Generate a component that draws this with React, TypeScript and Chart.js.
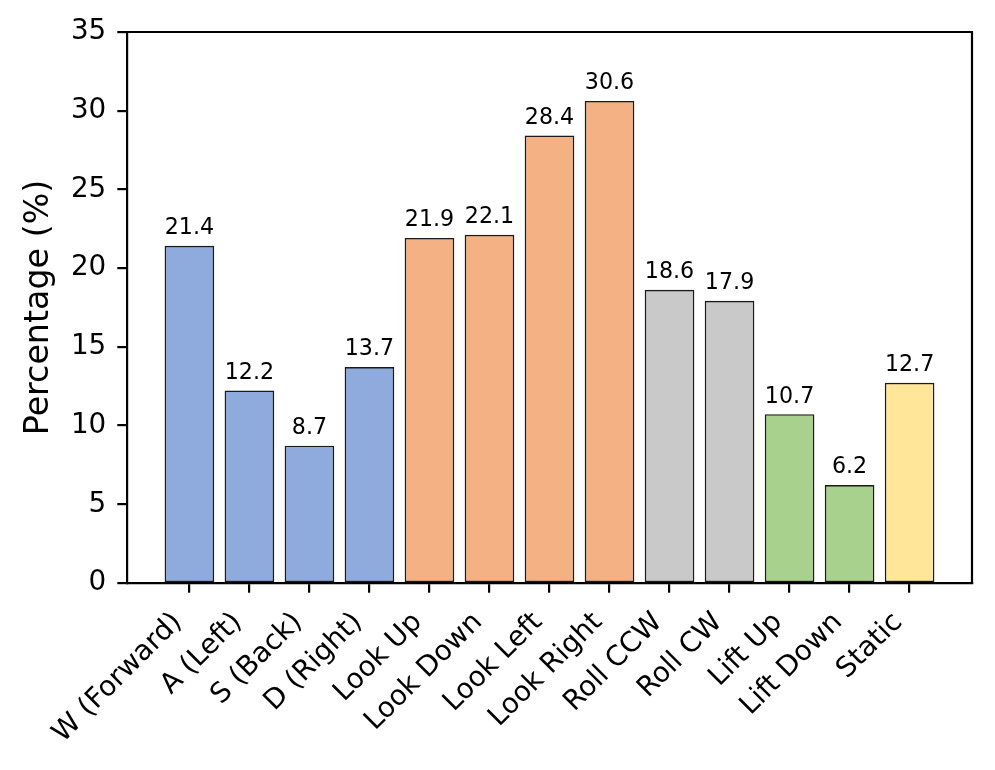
import React, { useEffect, useRef } from "react";
import { Chart, registerables } from "chart.js";

Chart.register(...registerables);

const categories = [
  "W (Forward)", "A (Left)", "S (Back)", "D (Right)",
  "Look Up", "Look Down", "Look Left", "Look Right",
  "Roll CCW", "Roll CW", "Lift Up", "Lift Down", "Static",
];
const percentages = [21.4, 12.2, 8.7, 13.7, 21.9, 22.1, 28.4, 30.6, 18.6, 17.9, 10.7, 6.2, 12.7];
const groupOf = [0, 0, 0, 0, 1, 1, 1, 1, 2, 2, 3, 3, 4];
const groupColors = ["#8FAADC", "#F4B183", "#C9C9C9", "#A9D18E", "#FFE699"];
const yTicks = [0, 5, 10, 15, 20, 25, 30, 35];

const FONT = "'DejaVu Sans', sans-serif";
const TICK_FONT = 27.8;
const TICK_LEN = 9.7;
const SPINE = 2.2;

export default function App() {
  const ref = useRef<HTMLCanvasElement | null>(null);

  useEffect(() => {
    document.body.style.margin = "0";
    const canvas = ref.current!;
    const framePlugin = {
      id: "frame",
      afterDraw(chart: any) {
        const { ctx, chartArea } = chart;
        ctx.save();
        ctx.strokeStyle = "#000";
        ctx.lineWidth = SPINE;
        ctx.lineCap = "square";
        ctx.beginPath();
        ctx.moveTo(chartArea.left, chartArea.top);
        ctx.lineTo(chartArea.right, chartArea.top);
        ctx.lineTo(chartArea.right, chartArea.bottom);
        ctx.stroke();
        ctx.restore();
      },
      afterDatasetsDraw(chart: any) {
        const { ctx } = chart;
        const meta = chart.getDatasetMeta(0);
        ctx.save();
        ctx.fillStyle = "#000";
        ctx.font = `22.2px ${FONT}`;
        ctx.textAlign = "center";
        ctx.textBaseline = "alphabetic";
        meta.data.forEach((el: any, i: number) => {
          ctx.fillText(percentages[i].toFixed(1), el.x, el.y - 12);
        });
        ctx.restore();
      },
    };

    const chart = new Chart(canvas, {
      type: "bar",
      data: {
        datasets: [
          {
            data: percentages.map((v, i) => ({ x: i, y: v })),
            backgroundColor: groupOf.map((g) => groupColors[g]),
            borderColor: "#1a1a1a",
            borderWidth: 1.4,
            borderSkipped: false,
            barThickness: 49,
          } as any,
        ],
      },
      options: {
        animation: false,
        responsive: false,
        maintainAspectRatio: false,
        layout: { padding: { top: 32, right: 23, left: 0, bottom: 0 } },
        plugins: { legend: { display: false }, tooltip: { enabled: false } },
        scales: {
          x: {
            type: "linear",
            min: -1.04,
            max: 13.04,
            offset: false,
            afterBuildTicks(scale: any) {
              scale.ticks = categories.map((_, i) => ({ value: i }));
            },
            afterFit(scale: any) {
              scale.height = 187;
              scale.paddingLeft = 0;
              scale.paddingRight = 0;
            },
            ticks: {
              autoSkip: false,
              minRotation: 45,
              maxRotation: 45,
              color: "#000",
              padding: 13.5,
              labelOffset: -11.5,
              font: { family: FONT, size: TICK_FONT },
              callback: (v: any) => categories[v as number] ?? "",
            },
            grid: {
              display: true,
              offset: false,
              drawOnChartArea: false,
              drawTicks: true,
              tickLength: TICK_LEN,
              color: "#000",
              lineWidth: SPINE,
            },
            border: { display: true, color: "#000", width: SPINE },
          },
          y: {
            min: 0,
            max: 35,
            afterBuildTicks(scale: any) {
              scale.ticks = yTicks.map((v) => ({ value: v }));
            },
            afterFit(scale: any) {
              scale.width = 127;
            },
            ticks: {
              color: "#000",
              padding: 11,
              font: { family: FONT, size: TICK_FONT },
            },
            grid: {
              display: true,
              drawOnChartArea: false,
              drawTicks: true,
              tickLength: TICK_LEN,
              color: "#000",
              lineWidth: SPINE,
            },
            border: { display: true, color: "#000", width: SPINE },
            title: {
              display: true,
              text: "Percentage (%)",
              color: "#000",
              font: { family: FONT, size: 33.3 },
              padding: { top: 19, bottom: 0 },
            },
          },
        },
      },
      plugins: [framePlugin],
    });
    return () => chart.destroy();
  }, []);

  return (
    <div style={{ width: 995, height: 770, background: "#fff" }}>
      <canvas ref={ref} width={995} height={770} style={{ width: 995, height: 770 }} />
    </div>
  );
}
